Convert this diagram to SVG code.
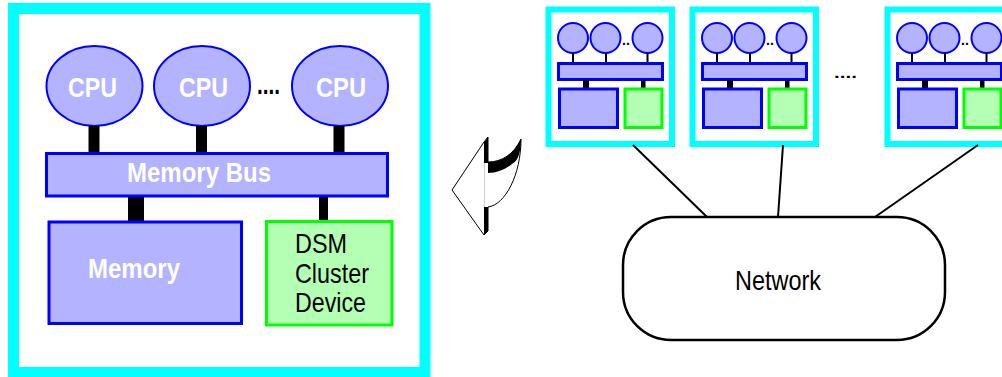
<svg xmlns="http://www.w3.org/2000/svg" width="1002" height="377" viewBox="0 0 1002 377">
<defs>
<style>
.frame{fill:#fff;stroke:#00ffff}
.cpu{fill:#b3b3ff;stroke:#0000ff;stroke-width:2}
.bus{fill:#b3b3ff;stroke:#0000ff;stroke-width:3}
.dsm{fill:#b3ffb3;stroke:#00ff00;stroke-width:3}
.stem{fill:#000}
.wt{font-family:"Liberation Sans",Arial,sans-serif;font-weight:bold;font-size:28px;fill:#fff}
.bt{font-family:"Liberation Sans",Arial,sans-serif;font-size:28px;fill:#000}
.link{stroke:#000;stroke-width:2;fill:none}
</style>
<g id="mini">
<rect class="frame" x="548.5" y="9.5" width="123.5" height="134.5" stroke-width="6"/>
<text x="622" y="45" font-family="Liberation Sans,Arial,sans-serif" font-size="14" font-weight="bold" fill="#000">..</text>
<circle class="cpu" cx="573" cy="38" r="15"/>
<circle class="cpu" cx="605.5" cy="38" r="15"/>
<circle class="cpu" cx="647.5" cy="38" r="15"/>
<rect x="572" y="53" width="2" height="10" fill="#000"/>
<rect x="605" y="53" width="2" height="10" fill="#000"/>
<rect x="646.5" y="53" width="2" height="10" fill="#000"/>
<rect class="bus" x="558.5" y="63.5" width="104" height="16" stroke-width="2.5"/>
<rect x="583" y="80" width="6" height="8" fill="#000"/>
<rect x="641" y="80" width="4.5" height="8" fill="#000"/>
<rect class="bus" x="559.5" y="89" width="58" height="38.5"/>
<rect class="dsm" x="625" y="89" width="37" height="38.5"/>
</g>
</defs>

<g id="cluster-node">
<rect class="frame" x="13.5" y="8.5" width="411.5" height="364" stroke-width="11"/>
</g>
<g id="cpu1">
<ellipse class="cpu" cx="94.5" cy="86" rx="48" ry="40"/>
<text class="wt" x="92.5" y="97" text-anchor="middle" textLength="49" lengthAdjust="spacingAndGlyphs">CPU</text>
</g>
<g id="cpu2">
<ellipse class="cpu" cx="202" cy="86" rx="48" ry="40"/>
<text class="wt" x="203.5" y="97" text-anchor="middle" textLength="49" lengthAdjust="spacingAndGlyphs">CPU</text>
</g>
<text class="wt" x="257" y="94" fill="#000" style="fill:#000" textLength="23" lengthAdjust="spacingAndGlyphs">....</text>
<g id="cpu3">
<ellipse class="cpu" cx="340" cy="86" rx="48" ry="40"/>
<text class="wt" x="341" y="97" text-anchor="middle" textLength="50" lengthAdjust="spacingAndGlyphs">CPU</text>
</g>
<g id="connectors-big">
<rect class="stem" x="88.5" y="126" width="11" height="27"/>
<rect class="stem" x="196" y="126" width="11" height="27"/>
<rect class="stem" x="333.5" y="126" width="11" height="27"/>
<rect class="stem" x="128" y="196" width="16" height="26"/>
<rect class="stem" x="319" y="196" width="9" height="26"/>
</g>
<g id="memory-bus">
<rect class="bus" x="46.5" y="153.5" width="341" height="42.5"/>
<text class="wt" x="199" y="182" text-anchor="middle" textLength="144" lengthAdjust="spacingAndGlyphs">Memory Bus</text>
</g>
<g id="memory">
<rect class="bus" x="49" y="222" width="192.5" height="101.5"/>
<text class="wt" x="134" y="278" text-anchor="middle" textLength="92" lengthAdjust="spacingAndGlyphs">Memory</text>
</g>
<g id="dsm">
<rect class="dsm" x="266.5" y="221.5" width="125.5" height="103.5"/>
<text class="bt" x="295" y="253" textLength="52" lengthAdjust="spacingAndGlyphs">DSM</text>
<text class="bt" x="295" y="283" textLength="74" lengthAdjust="spacingAndGlyphs">Cluster</text>
<text class="bt" x="295" y="312" textLength="71" lengthAdjust="spacingAndGlyphs">Device</text>
</g>

<g id="arrow">
<path d="M484,142 L452,190 L484,235 L488,231 L488,207 C505,205 521,175 521,139 C514,154 502,162 488,162 L488,137 Z" fill="#fff" stroke="#000" stroke-width="1"/>
<path d="M484,142 L488,137 L488,163 L484,163 Z" fill="#000"/>
<path d="M484,207 L488,207 L488,231 L484,235 Z" fill="#000"/>
<path d="M488,162 C502,162 514,154 521,139 C521,152 518,161 512,164 C506,169 497,173 488,173 Z" fill="#000"/>
<line x1="484.5" y1="163" x2="484.5" y2="207" stroke="#ccc" stroke-width="1"/>
</g>

<g id="node1"><use href="#mini"/></g>
<g id="node2"><use href="#mini" transform="translate(144,0)"/></g>
<text x="834" y="78" font-family="Liberation Sans,Arial,sans-serif" font-size="14" font-weight="bold" fill="#000" textLength="23" lengthAdjust="spacingAndGlyphs">....</text>
<g id="node3"><use href="#mini" transform="translate(339,0)"/></g>

<g id="connectors">
<line class="link" x1="633" y1="145" x2="707" y2="217"/>
<line class="link" x1="783" y1="145" x2="778" y2="217"/>
<line class="link" x1="978" y1="145" x2="875" y2="217"/>
</g>
<g id="network">
<rect x="623" y="217" width="322" height="123" rx="48" ry="48" fill="#fff" stroke="#000" stroke-width="2.5"/>
<text class="bt" x="778" y="290" text-anchor="middle" textLength="86" lengthAdjust="spacingAndGlyphs">Network</text>
</g>
</svg>
